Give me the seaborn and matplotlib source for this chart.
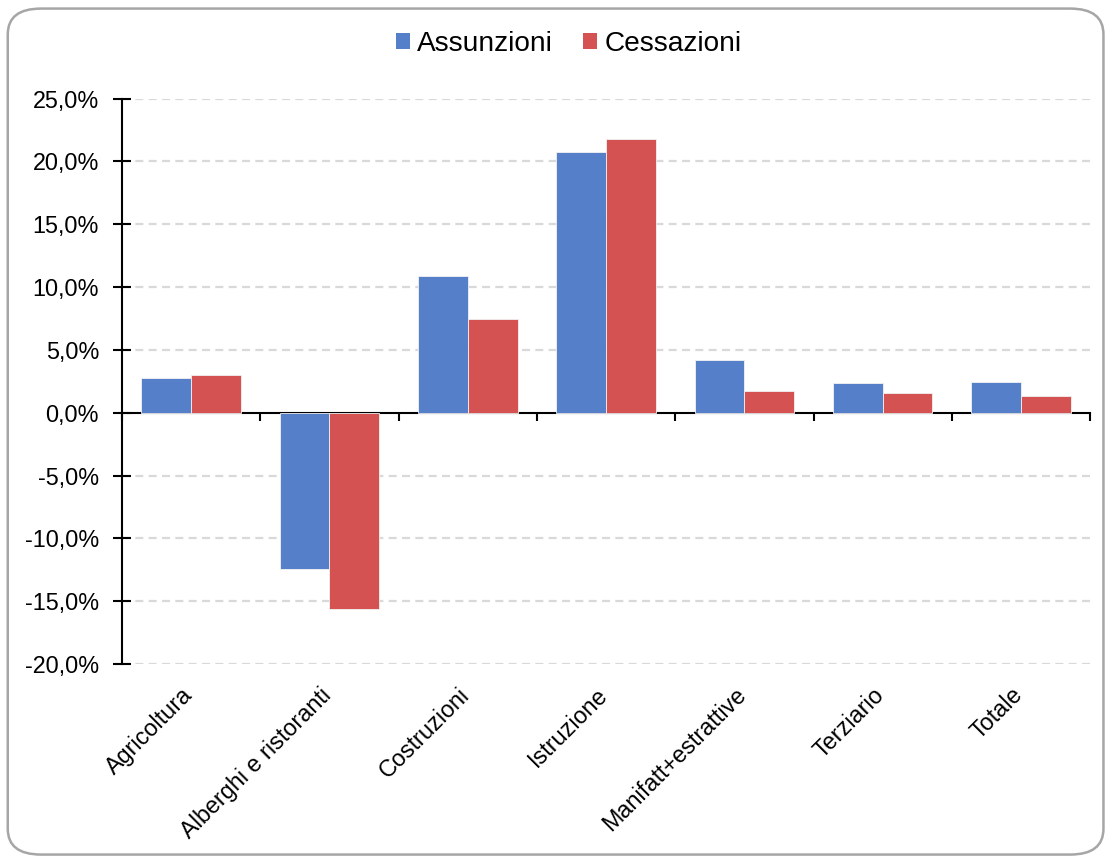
import matplotlib
matplotlib.use("Agg")
import matplotlib.pyplot as plt
import matplotlib.transforms as mtransforms
import seaborn as sns
import pandas as pd
from matplotlib.patches import FancyBboxPatch, Patch
from matplotlib.ticker import FuncFormatter

categories = ["Agricoltura", "Alberghi e ristoranti", "Costruzioni", "Istruzione",
              "Manifatt+estrattive", "Terziario", "Totale"]
assunzioni = [2.8, -12.4, 10.85, 20.75, 4.2, 2.4, 2.45]
cessazioni = [3.0, -15.6, 7.5, 21.8, 1.75, 1.6, 1.35]
series_names = ["Assunzioni", "Cessazioni"]
colors = ["#5580C9", "#D45252"]

df = pd.DataFrame({
    "Settore": categories * 2,
    "Serie": [series_names[0]] * len(categories) + [series_names[1]] * len(categories),
    "Valore": assunzioni + cessazioni,
})

sns.set_theme(style="white")
plt.rcParams["font.family"] = ["Liberation Sans", "DejaVu Sans"]
plt.rcParams["text.color"] = "black"
plt.rcParams["xtick.color"] = "black"
plt.rcParams["ytick.color"] = "black"

fig = plt.figure(figsize=(11.09, 8.58), dpi=100)
ax = fig.add_axes([0.110, 0.226, 0.873, 0.659])

sns.barplot(data=df, x="Settore", y="Valore", hue="Serie", palette=colors,
            width=0.72, ax=ax, legend=False, saturation=1,
            edgecolor="#F2F2F2", linewidth=0.6)

ax.set_ylim(-20, 25)
ax.set_xlim(-0.5, len(categories) - 0.5)
ax.set_yticks(range(-20, 26, 5))
ax.yaxis.set_major_formatter(FuncFormatter(lambda v, p: f"{v:.1f}%".replace(".", ",")))
ax.tick_params(axis="y", left=True, labelsize=16.8, length=13, width=1.5,
               direction="inout", color="black", labelcolor="black", pad=10)
for t in ax.get_yticks():
    if t != 0:
        ax.axhline(t, color="#D9D9D9", lw=1.6, ls=(0, (3.6, 2.4)), zorder=0)

for s in ["top", "right", "bottom"]:
    ax.spines[s].set_visible(False)
ax.spines["left"].set_color("black")
ax.spines["left"].set_linewidth(1.5)

ax.set_xlabel("")
ax.set_ylabel("")
ax.tick_params(axis="x", length=0, labelsize=16.8, pad=14, labelcolor="black")
offset = mtransforms.ScaledTranslation(-10 / 100, 0, fig.dpi_scale_trans)
for lab in ax.get_xticklabels():
    lab.set_rotation(45)
    lab.set_ha("right")
    lab.set_rotation_mode("anchor")
    lab.set_transform(lab.get_transform() + offset)

sec = ax.secondary_xaxis(20 / 45)
sec.set_xticks([i - 0.5 for i in range(len(categories) + 1)])
sec.set_xticklabels([])
sec.tick_params(axis="x", length=6, width=1.5, direction="out", color="black")
sec.spines["bottom"].set_color("black")
sec.spines["bottom"].set_linewidth(1.5)

handles = [Patch(facecolor=c, edgecolor="none") for c in colors]
fig.legend(handles, series_names, loc="center", bbox_to_anchor=(0.5126, 0.949), ncol=2,
           frameon=False, fontsize=20.2, handlelength=0.5, handleheight=0.5,
           handletextpad=0.25, columnspacing=1.1, borderaxespad=0)

frame = FancyBboxPatch((0.007, 0.004), 0.988, 0.986, boxstyle="round,pad=0,rounding_size=0.03",
                       transform=fig.transFigure, facecolor="none", edgecolor="#A6A6A6",
                       linewidth=1.8, zorder=-1)
fig.patches.append(frame)

fig.savefig("out.png", dpi=100)
